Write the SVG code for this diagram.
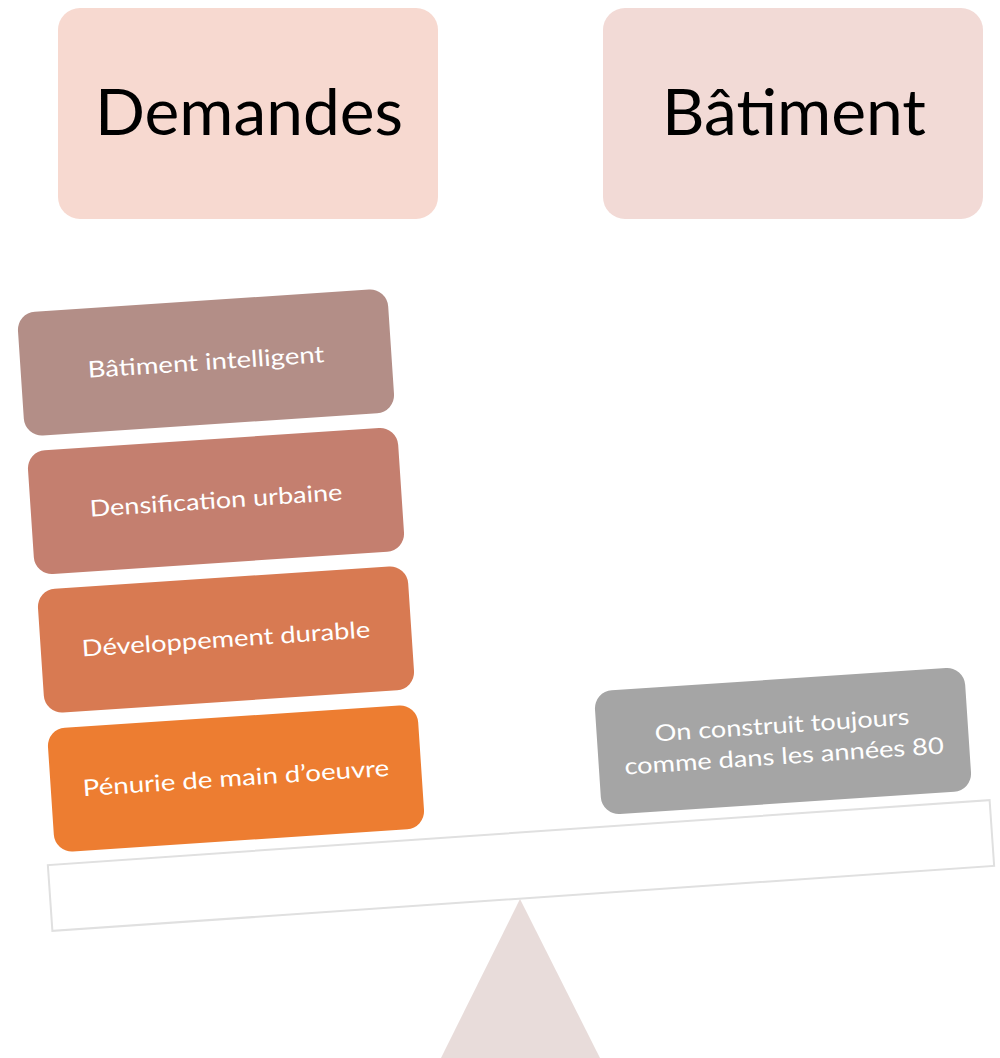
<svg xmlns="http://www.w3.org/2000/svg" width="1000" height="1058" viewBox="0 0 1000 1058">
<style>
.hdr{font-family:Lato,"Open Sans","Liberation Sans",sans-serif;font-size:64px;fill:#000;text-anchor:middle}
.lbl{font-family:Lato,"Open Sans","Liberation Sans",sans-serif;font-size:23px;fill:#fff;text-anchor:middle}
.item{rx:18px;ry:18px}
</style>
<rect width="1000" height="1058" fill="#fff"/>
<g id="node-demandes">
<rect x="58" y="8" width="380" height="211" rx="22" fill="#F7D9D0"/>
<text class="hdr" x="249" y="135" textLength="308" lengthAdjust="spacingAndGlyphs">Demandes</text>
</g>
<g id="node-batiment">
<rect x="603" y="8" width="380" height="211" rx="22" fill="#F2DAD6"/>
<text class="hdr" x="794" y="135" textLength="264" lengthAdjust="spacingAndGlyphs">Bâtiment</text>
</g>
<g id="fulcrum">
<polygon points="520,899 440,1060 601,1060" fill="#E8DCDA"/>
</g>
<g id="beam" transform="rotate(-3.95 521 865.5)">
<rect x="49" y="832.5" width="944" height="66" fill="#fff" stroke="#E0E0E0" stroke-width="2"/>
</g>
<g id="node-intelligent" transform="rotate(-3.8 206 362.5)">
<rect class="item" x="20.5" y="300.5" width="371" height="124" fill="#B38E87"/>
<text class="lbl" x="206" y="370" textLength="237" lengthAdjust="spacingAndGlyphs">Bâtiment intelligent</text>
</g>
<g id="node-densification" transform="rotate(-3.8 216 501)">
<rect class="item" x="30.5" y="439" width="371" height="124" fill="#C47F6F"/>
<text class="lbl" x="216" y="508.5" textLength="253" lengthAdjust="spacingAndGlyphs">Densification urbaine</text>
</g>
<g id="node-durable" transform="rotate(-3.8 226 639.5)">
<rect class="item" x="40.5" y="577.5" width="371" height="124" fill="#D87A52"/>
<text class="lbl" x="226" y="647" textLength="289" lengthAdjust="spacingAndGlyphs">Développement durable</text>
</g>
<g id="node-penurie" transform="rotate(-3.8 236 778.5)">
<rect class="item" x="50.5" y="716.5" width="371" height="124" fill="#ED7D31"/>
<text class="lbl" x="236" y="786" textLength="307" lengthAdjust="spacingAndGlyphs">Pénurie de main d’oeuvre</text>
</g>
<g id="node-annees80" transform="rotate(-3.8 783 741)">
<rect class="item" x="597.5" y="679" width="371" height="124" fill="#A5A5A5"/>
<text class="lbl" x="783" y="733" textLength="255" lengthAdjust="spacingAndGlyphs">On construit toujours</text>
<text class="lbl" x="783" y="764" textLength="320" lengthAdjust="spacingAndGlyphs">comme dans les années 80</text>
</g>
</svg>
